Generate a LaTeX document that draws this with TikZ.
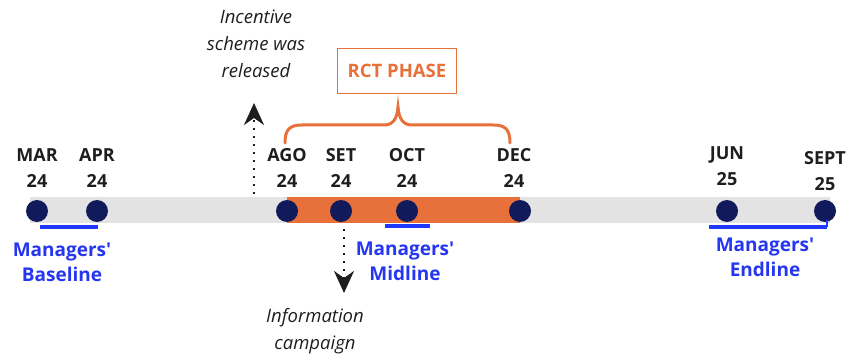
\documentclass[tikz,border=0pt]{standalone}
\usepackage{fontspec}
\setmainfont{Open Sans}
\newfontfamily\plainsans{Open Sans}
\usetikzlibrary{arrows.meta}
\definecolor{navy}{HTML}{111A5A}
\definecolor{bluetxt}{HTML}{2536F0}
\definecolor{blueln}{HTML}{1F38FF}
\definecolor{barg}{HTML}{E3E3E3}
\definecolor{orng}{HTML}{E8703A}
\definecolor{ink}{HTML}{1E1E1E}
\tikzset{
  dot/.style={circle,fill=navy,minimum size=22pt,inner sep=0pt},
  month/.style={font=\fontsize{18}{26}\selectfont\bfseries,text=ink,align=center,inner sep=0pt},
  survey/.style={font=\plainsans\fontsize{19}{25}\selectfont\bfseries,text=bluetxt,align=center,inner sep=0pt},
  note/.style={font=\fontsize{18.5}{27}\selectfont\itshape,text=ink,align=center,inner sep=0pt},
  uline/.style={draw=blueln,line width=4pt},
  dotarrow/.style={draw=ink,line width=2pt,dash pattern=on 2pt off 6pt,
     -{Stealth[length=22pt,width=20pt,inset=7pt,fill=ink]}},
}
\begin{document}
\begin{tikzpicture}[x=1pt,y=-1pt]
\useasboundingbox (0,0) rectangle (851,358);
% bars
\fill[barg] (30,197) rectangle (830,223);
\fill[orng] (287,197) rectangle (520,223);
% dots
\node[dot] (mar) at (37,211) {};
\node[dot] (apr) at (97,211) {};
\node[dot] (ago) at (287,211) {};
\node[dot] (set) at (341,211) {};
\node[dot] (oct) at (407,211) {};
\node[dot] (dec) at (520,211) {};
\node[dot] (jun) at (727,211) {};
\node[dot] (sept) at (825,211) {};
% month labels
\node[month] (lmar) at (37,168) {MAR\\24};
\node[month] (lapr) at (97,168) {APR\\24};
\node[month] (lago) at (287,168) {AGO\\24};
\node[month] (lset) at (341,168) {SET\\24};
\node[month] (loct) at (407,168) {OCT\\24};
\node[month] (ldec) at (514,168) {DEC\\24};
\node[month] (ljun) at (727,166) {JUN\\25};
\node[month] (lsept) at (825,171) {SEPT\\25};
% survey underlines
\coordinate (b1) at (40,227); \coordinate (b2) at (98,227);
\coordinate (m1) at (385,226); \coordinate (m2) at (430,226);
\coordinate (e1) at (709,227); \coordinate (e2) at (827,227); \coordinate (e3) at (827,220);
\draw[uline] (b1) -- (b2);
\draw[uline] (m1) -- (m2);
\draw[uline] (e1) -- (e2);
\draw[draw=blueln,line width=2pt] (e2) -- (e3);
\node[survey] (base) at (62,262) {Managers'\\Baseline};
\node[survey] (mid) at (405,261) {Managers'\\Midline};
\node[survey] (end) at (765,257) {Managers'\\Endline};
% notes and arrows
\node[note] (inc) at (256,44) {Incentive\\scheme was\\released};
\coordinate (upfrom) at (254,194);
\coordinate (upto) at (254,103);
\draw[dotarrow] (upfrom) -- (upto);
\node[note] (info) at (315,331) {Information\\campaign};
\coordinate (dnfrom) at (344,229);
\coordinate (dnto) at (344,293);
\draw[dotarrow] (dnfrom) -- (dnto);
% RCT phase
\node[draw=orng,line width=1.5pt,minimum width=119pt,minimum height=45pt,inner sep=0pt,
  text=orng,font=\fontsize{18.5}{20}\selectfont\bfseries] (rct) at (397,71) {RCT PHASE};
\draw[orng,line width=3pt,line cap=round]
  (285,143) .. controls (285,129) and (290,125) .. (302,125) -- (384,125)
  .. controls (393,125) and (397,119) .. (398,107)
  .. controls (399,119) and (403,125) .. (412,125) -- (493,125)
  .. controls (505,125) and (510,129) .. (510,143);
\end{tikzpicture}
\end{document}
